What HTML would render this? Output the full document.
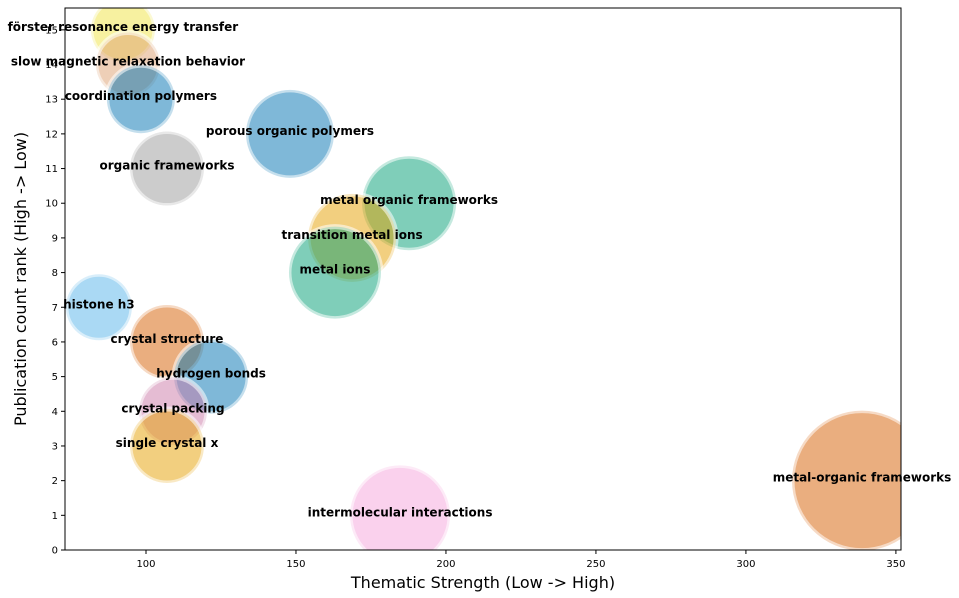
<!DOCTYPE html>
<html><head><meta charset="utf-8"><style>
body{margin:0;background:#fff;}
svg{display:block;font-family:"DejaVu Sans","Liberation Sans",sans-serif;}
</style></head><body>
<svg id="chart" width="959" height="598"></svg>
<script>
const labels=["förster resonance energy transfer","slow magnetic relaxation behavior","coordination polymers","porous organic polymers","organic frameworks","metal organic frameworks","transition metal ions","metal ions","histone h3","crystal structure","hydrogen bonds","crystal packing","single crystal x","metal-organic frameworks","intermolecular interactions"];
const xVals=[92.3,94,98.3,148,107,187.7,168.7,163,84.3,107,121.7,109,107,338.7,184.7];
const yVals=[15,14,13,12,11,10,9,8,7,6,5,4,3,2,1];
const sizes=[34,34,36,46,39,49,46,48,35,39,39,36,39,72,52];
const colors=["#F0E442","#DDA070","#0072B2","#0072B2","#999999","#009E73","#E69F00","#009E73","#56B4E9","#D55E00","#0072B2","#CC79A7","#E69F00","#D55E00","#F5A3DC"];
const xTicks=[100,150,200,250,300,350];
const yTicks=[0,1,2,3,4,5,6,7,8,9,10,11,12,13,14,15];
const L=65,R=901,T=8,B=550,xmin=73,xmax=351.7,ymin=0,ymax=15.63;
const sx=v=>L+(v-xmin)/(xmax-xmin)*(R-L);
const sy=v=>B-(v-ymin)/(ymax-ymin)*(B-T);
const NS="http://www.w3.org/2000/svg";
const svg=document.getElementById('chart');
function mk(t,a,p){const e=document.createElementNS(NS,t);for(const k in a)e.setAttribute(k,a[k]);(p||svg).appendChild(e);return e;}
const clip=mk('clipPath',{id:'pc'});mk('rect',{x:L,y:T,width:R-L,height:B-T},clip);
const g=mk('g',{'clip-path':'url(#pc)'});


labels.forEach((l,i)=>{
  const c=mk('circle',{cx:sx(xVals[i]),cy:sy(yVals[i]),r:sizes[i]-2,fill:colors[i],'fill-opacity':0.5,stroke:'#fff','stroke-opacity':0.55,'stroke-width':5},g);
  
  
});
labels.forEach((l,i)=>{
  const t=mk('text',{x:sx(xVals[i]),y:sy(yVals[i])+1,'text-anchor':'middle','font-size':12,'font-weight':'bold',fill:'#000'});
  t.textContent=l;
  
  
});
const fr=mk('rect',{x:L,y:T,width:R-L,height:B-T,fill:'none',stroke:'#000','stroke-width':1});


xTicks.forEach(v=>{
  mk('line',{x1:sx(v),x2:sx(v),y1:B,y2:B+4,stroke:'#000'});
  const t=mk('text',{x:sx(v),y:B+17,'text-anchor':'middle','font-size':10,fill:'#000'});t.textContent=v;
  
  
});
yTicks.forEach(v=>{
  mk('line',{x1:L-4,x2:L,y1:sy(v),y2:sy(v),stroke:'#000'});
  const t=mk('text',{x:L-7,y:sy(v)+3.5,'text-anchor':'end','font-size':10,fill:'#000'});t.textContent=v;
  
  
});
const xt=mk('text',{x:(L+R)/2,y:588,'text-anchor':'middle','font-size':16,fill:'#000'});xt.textContent='Thematic Strength (Low -> High)';


const yt=mk('text',{x:0,y:0,'text-anchor':'middle','font-size':16,fill:'#000',transform:`translate(26,${(T+B)/2}) rotate(-90)`});yt.textContent='Publication count rank (High -> Low)';


</script>
</body></html>
